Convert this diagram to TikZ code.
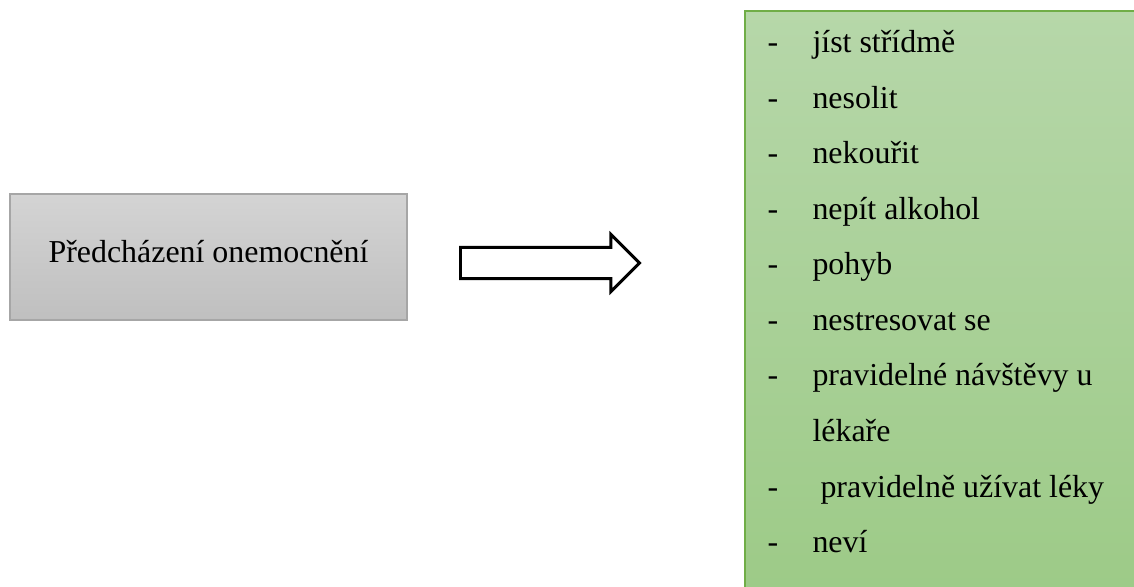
\documentclass[tikz,border=0pt]{standalone}
\usepackage{fontspec}
\setmainfont{Liberation Serif}
\usepackage{xcolor}
\definecolor{sedaram}{RGB}{166, 166, 166}
\definecolor{sedanahore}{RGB}{212, 212, 212}
\definecolor{sedadole}{RGB}{191, 191, 191}
\definecolor{zelenaram}{RGB}{112, 173, 71}
\definecolor{zelenanahore}{RGB}{182, 215, 169}
\definecolor{zelenadole}{RGB}{156, 202, 134}
\usepackage{tikz}
\usetikzlibrary{
    shapes.arrows,
    positioning
}

\tikzset{
    sedybox/.style={draw=sedaram, line width=0.6pt, top color=sedanahore,
        bottom color=sedadole, minimum width=149.3pt, minimum height=47.4pt,
        inner sep=0pt, text height=8pt, text depth=4.2pt},
    zelenybox/.style={draw=zelenaram, line width=0.8pt, top color=zelenanahore,
        bottom color=zelenadole, anchor=north west, minimum width=152pt,
        minimum height=226pt, inner sep=0pt},
    sipkatvar/.style={single arrow, draw=black, line width=1.1pt, fill=white,
        minimum height=67.3pt, inner xsep=0pt, inner ysep=5.3pt,
        single arrow head extend=4.9pt, single arrow tip angle=90,
        single arrow head indent=0pt},
    polozka/.style={anchor=base west, inner sep=0pt},
    pomlcka/.style={anchor=base west, inner sep=0pt}
}

\begin{document}
\begin{tikzpicture}[x=0.376pt, y=-0.376pt, font=\fontsize{12pt}{14pt}\selectfont]
    \useasboundingbox (0,0) rectangle (1134,587);
    \clip (0,0) rectangle (1134,587);

    \node[sedybox] (predchazeni) at (208.5,257) {Předcházení onemocnění};
    \node[sipkatvar, anchor=tail] (sipka) at (459,263) {};

    % seznam doporuceni
    \node[zelenybox] (opatreni) at (744,10) {};
    \foreach \znak/\polozka [count=\i from 0] in {
        -/jíst střídmě, -/nesolit, -/nekouřit, -/nepít alkohol, -/pohyb,
        -/nestresovat se, -/pravidelné návštěvy u, {}/lékaře,
        -/\ pravidelně užívat léky, -/neví}
    {
        \node[pomlcka] (d\i) at (767,{53+55.5*\i}) {\znak};
        \node[polozka] (p\i) at (812,{53+55.5*\i}) {\polozka};
    }
\end{tikzpicture}
\end{document}
